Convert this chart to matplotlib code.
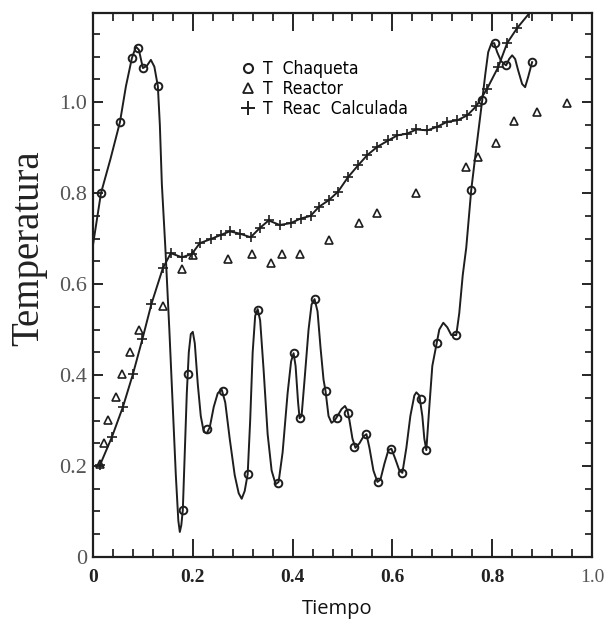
import numpy as np
import matplotlib.pyplot as plt
from matplotlib.lines import Line2D

# T Chaqueta: smooth line + circle markers
chaq_line_t = [0.000, 0.016, 0.035, 0.054, 0.066, 0.078, 0.086, 0.092, 0.100, 0.108,
               0.116, 0.123, 0.130, 0.134, 0.138, 0.145, 0.153, 0.160, 0.166, 0.171,
               0.174, 0.177, 0.180, 0.184, 0.188, 0.192, 0.196, 0.200, 0.204, 0.210,
               0.216, 0.222, 0.228, 0.234, 0.242, 0.250, 0.258, 0.265, 0.274, 0.284,
               0.292, 0.298, 0.304, 0.310, 0.315, 0.320, 0.325, 0.330, 0.335, 0.342,
               0.350, 0.358, 0.366, 0.372, 0.380, 0.390, 0.397, 0.402, 0.406, 0.411,
               0.414, 0.418, 0.424, 0.432, 0.438, 0.444, 0.450, 0.456, 0.462, 0.466,
               0.472, 0.478, 0.484, 0.490, 0.498, 0.505, 0.510, 0.514, 0.520, 0.526,
               0.534, 0.542, 0.548, 0.554, 0.562, 0.570, 0.576, 0.584, 0.592, 0.598,
               0.606, 0.614, 0.620, 0.628, 0.636, 0.644, 0.648, 0.654, 0.660, 0.664,
               0.668, 0.674, 0.680, 0.688, 0.694, 0.702, 0.710, 0.718, 0.728, 0.734,
               0.741, 0.748, 0.758, 0.766, 0.774, 0.780, 0.786, 0.792, 0.798, 0.804,
               0.810, 0.818, 0.828, 0.834, 0.840, 0.846, 0.852, 0.860, 0.866, 0.872,
               0.880]
chaq_line_y = [0.686, 0.800, 0.875, 0.956, 1.035, 1.097, 1.122, 1.115, 1.075, 1.080,
               1.093, 1.078, 1.035, 0.950, 0.820, 0.680, 0.500, 0.330, 0.180, 0.080,
               0.055, 0.070, 0.103, 0.230, 0.360, 0.450, 0.490, 0.495, 0.470, 0.380,
               0.310, 0.275, 0.272, 0.285, 0.330, 0.360, 0.368, 0.340, 0.260, 0.180,
               0.140, 0.128, 0.145, 0.182, 0.300, 0.450, 0.530, 0.545, 0.520, 0.410,
               0.270, 0.190, 0.160, 0.165, 0.230, 0.360, 0.430, 0.448, 0.420, 0.340,
               0.305, 0.310, 0.390, 0.500, 0.555, 0.567, 0.540, 0.460, 0.390, 0.365,
               0.310, 0.295, 0.300, 0.310, 0.325, 0.332, 0.322, 0.300, 0.260, 0.240,
               0.250, 0.265, 0.270, 0.240, 0.190, 0.165, 0.170, 0.205, 0.235, 0.238,
               0.215, 0.190, 0.185, 0.240, 0.310, 0.355, 0.362, 0.355, 0.310, 0.260,
               0.235, 0.330, 0.420, 0.465, 0.500, 0.515, 0.505, 0.488, 0.488, 0.536,
               0.620, 0.680, 0.807, 0.880, 0.950, 1.004, 1.060, 1.110, 1.128, 1.130,
               1.110, 1.090, 1.081, 1.095, 1.103, 1.095, 1.070, 1.040, 1.033, 1.055,
               1.088]

chaq_t = [0.016, 0.054, 0.078, 0.090, 0.100, 0.130, 0.180, 0.190, 0.228, 0.260,
          0.310, 0.330, 0.370, 0.402, 0.414, 0.444, 0.466, 0.488, 0.512, 0.524,
          0.548, 0.572, 0.598, 0.620, 0.658, 0.668, 0.690, 0.728, 0.758, 0.780,
          0.806, 0.828, 0.880]
chaq_y = [0.800, 0.956, 1.097, 1.120, 1.075, 1.035, 0.103, 0.402, 0.281, 0.365,
          0.182, 0.543, 0.163, 0.448, 0.305, 0.567, 0.365, 0.305, 0.316, 0.242,
          0.270, 0.165, 0.237, 0.185, 0.347, 0.235, 0.470, 0.488, 0.807, 1.004,
          1.130, 1.081, 1.088]

# T Reactor: triangles only
reac_t = [0.014, 0.022, 0.030, 0.047, 0.059, 0.074, 0.093, 0.140, 0.178, 0.200,
          0.270, 0.318, 0.356, 0.378, 0.414, 0.472, 0.534, 0.570, 0.648, 0.748,
          0.772, 0.808, 0.844, 0.890, 0.950]
reac_y = [0.205, 0.250, 0.302, 0.351, 0.403, 0.450, 0.500, 0.552, 0.633, 0.664,
          0.655, 0.666, 0.646, 0.666, 0.666, 0.697, 0.734, 0.756, 0.800, 0.857,
          0.879, 0.910, 0.958, 0.978, 0.998]

# T Reac Calculada: line with plus markers
calc_t = [0.014, 0.038, 0.060, 0.080, 0.099, 0.117, 0.140, 0.156, 0.178, 0.198,
          0.214, 0.236, 0.256, 0.274, 0.294, 0.316, 0.334, 0.352, 0.374, 0.396,
          0.416, 0.436, 0.453, 0.473, 0.491, 0.511, 0.532, 0.550, 0.570, 0.592,
          0.610, 0.630, 0.648, 0.670, 0.690, 0.710, 0.730, 0.750, 0.768, 0.790,
          0.812, 0.830, 0.850, 0.874]
calc_y = [0.202, 0.264, 0.330, 0.402, 0.479, 0.556, 0.635, 0.668, 0.659, 0.666,
          0.690, 0.699, 0.708, 0.716, 0.711, 0.703, 0.723, 0.740, 0.730, 0.734,
          0.744, 0.750, 0.770, 0.785, 0.803, 0.835, 0.862, 0.884, 0.902, 0.916,
          0.927, 0.931, 0.940, 0.938, 0.946, 0.957, 0.960, 0.971, 0.991, 1.030,
          1.077, 1.130, 1.163, 1.195]

labels = ['T  Chaqueta', 'T  Reactor', 'T  Reac  Calculada']
ink = '#1e1e1e'

fig = plt.figure(figsize=(6.05, 6.21), dpi=100)
ax = fig.add_axes([0.1537, 0.1031, 0.8248, 0.8759])

ax.plot(chaq_line_t, chaq_line_y, color=ink, lw=1.4, solid_joinstyle='round')
ax.plot(chaq_t, chaq_y, ls='none', marker='o', ms=5.5, mfc='none', mec=ink, mew=1.4)
ax.plot(reac_t, reac_y, ls='none', marker='^', ms=5.5, mfc='none', mec=ink, mew=1.2)
ax.plot(calc_t, calc_y, color=ink, lw=1.4, marker='+', ms=7, mew=1.2)

ax.set_xlim(0, 1.0)
ax.set_ylim(0, 1.196)
ax.set_xticks(np.arange(0, 1.01, 0.2))
ax.set_xticks(np.arange(0, 1.01, 0.04), minor=True)
ax.set_yticks(np.arange(0, 1.01, 0.2))
ax.set_yticks(np.arange(0, 1.19, 0.05), minor=True)
ax.set_xticklabels(['0', '0.2', '0.4', '0.6', '0.8', '1.0'],
                   family='Liberation Serif', fontsize=14, fontweight='bold', color='#222')
ax.get_xticklabels()[-1].set_fontweight('normal')
ax.get_xticklabels()[-1].set_color('#555')
ax.set_yticklabels(['0', '0.2', '0.4', '0.6', '0.8', '1.0'],
                   family='Liberation Serif', fontsize=16, color='#555')

ax.tick_params(axis='x', which='major', direction='in', length=13, width=1.2,
               top=True, pad=9)
ax.tick_params(axis='x', which='minor', direction='in', length=6, width=1.1, top=True)
ax.tick_params(axis='y', which='major', direction='in', length=7, width=1.2,
               right=True, pad=4)
ax.tick_params(axis='y', which='minor', direction='in', length=5, width=1.1, right=True)
for s in ax.spines.values():
    s.set_linewidth(1.6)
    s.set_color(ink)

ax.set_ylabel('Temperatura', family='Liberation Serif', fontsize=28, color='#222')
ax.yaxis.set_label_coords(-0.092, 0.568)
ax.set_xlabel('Tiempo', family=['Open Sans', 'DejaVu Sans'], fontsize=14.5, color='#111')
ax.xaxis.set_label_coords(0.49, -0.077)
ax.xaxis.label.set_va('top')

handles = [Line2D([], [], ls='none', marker='o', ms=6.5, mfc='none', mec=ink, mew=1.5),
           Line2D([], [], ls='none', marker='^', ms=6.5, mfc='none', mec=ink, mew=1.3),
           Line2D([], [], ls='none', marker='+', ms=10, mec=ink, mew=1.4)]
ax.legend(handles, labels, loc='upper left', bbox_to_anchor=(0.266, 0.942),
          frameon=False, handlelength=0.8, handletextpad=0.45, labelspacing=0.1,
          prop={'family': 'DejaVu Sans', 'stretch': 'condensed', 'size': 12.5})

fig.savefig('out.png', dpi=100)
